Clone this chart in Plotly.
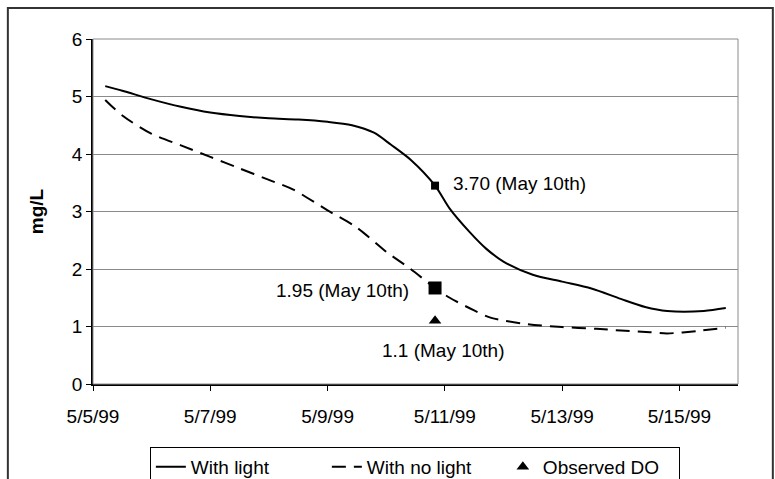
import plotly.graph_objects as go

# "With light" curve
light_dates = [
    "1999-05-05 05:00", "1999-05-05 12:00", "1999-05-06 00:00", "1999-05-06 12:00",
    "1999-05-07 00:00", "1999-05-07 12:00", "1999-05-08 00:00", "1999-05-08 12:00",
    "1999-05-09 00:00", "1999-05-09 10:00", "1999-05-09 19:00", "1999-05-10 02:00",
    "1999-05-10 10:00", "1999-05-10 20:00", "1999-05-11 02:00", "1999-05-11 10:00",
    "1999-05-11 17:00", "1999-05-12 00:00", "1999-05-12 12:00", "1999-05-13 00:00",
    "1999-05-13 12:00", "1999-05-14 00:00", "1999-05-14 10:00", "1999-05-14 19:00",
    "1999-05-15 10:00", "1999-05-15 19:00",
]
light_values = [
    5.18, 5.10, 4.95, 4.82, 4.72, 4.66, 4.62, 4.60, 4.56, 4.50, 4.37, 4.16, 3.90,
    3.45, 3.05, 2.65, 2.35, 2.13, 1.90, 1.78, 1.66, 1.48, 1.34, 1.27, 1.27, 1.32,
]

# "With no light" curve
dark_dates = [
    "1999-05-05 05:00", "1999-05-05 12:00", "1999-05-06 00:00", "1999-05-06 12:00",
    "1999-05-07 00:00", "1999-05-07 12:00", "1999-05-08 00:00", "1999-05-08 10:00",
    "1999-05-09 00:00", "1999-05-09 12:00", "1999-05-10 00:00", "1999-05-10 10:00",
    "1999-05-10 20:00", "1999-05-11 02:00", "1999-05-11 12:00", "1999-05-11 19:00",
    "1999-05-12 10:00", "1999-05-13 00:00", "1999-05-13 14:00", "1999-05-14 00:00",
    "1999-05-14 12:00", "1999-05-14 19:00", "1999-05-15 07:00", "1999-05-15 19:00",
]
dark_values = [
    4.94, 4.67, 4.35, 4.15, 3.95, 3.75, 3.55, 3.38, 3.02, 2.72, 2.30, 2.00,
    1.67, 1.50, 1.28, 1.15, 1.04, 0.99, 0.96, 0.93, 0.90, 0.88, 0.92, 0.98,
]

# May 10th points
mark_date = "1999-05-10 20:00"
light_mark = 3.45
dark_mark = 1.67
observed_do = 1.1

tick_dates = ["1999-05-05", "1999-05-07", "1999-05-09", "1999-05-11", "1999-05-13", "1999-05-15"]
tick_text = ["5/5/99", "5/7/99", "5/9/99", "5/11/99", "5/13/99", "5/15/99"]

FONT = "Liberation Sans, Arial, sans-serif"

fig = go.Figure()

fig.add_trace(go.Scatter(
    x=light_dates, y=light_values, mode='lines', name='With light',
    line=dict(color='black', width=2, shape='spline', smoothing=0.8)
))
fig.add_trace(go.Scatter(
    x=dark_dates, y=dark_values, mode='lines', name='With no light',
    line=dict(color='black', width=2, dash='14px,8px', shape='spline', smoothing=0.8)
))
fig.add_trace(go.Scatter(
    x=[mark_date], y=[observed_do], mode='markers', name='Observed DO',
    marker=dict(color='black', size=11, symbol='triangle-up')
))
fig.add_trace(go.Scatter(
    x=[mark_date], y=[light_mark], mode='markers', showlegend=False,
    marker=dict(color='black', size=8, symbol='square')
))
fig.add_trace(go.Scatter(
    x=[mark_date], y=[dark_mark], mode='markers', showlegend=False,
    marker=dict(color='black', size=13, symbol='square')
))

ann_font = dict(family=FONT, size=19, color='black')
fig.add_annotation(x=mark_date, y=light_mark, text='3.70 (May 10th)', showarrow=False,
                   xanchor='left', xshift=16, yshift=2, font=ann_font)
fig.add_annotation(x=mark_date, y=dark_mark, text='1.95 (May 10th)', showarrow=False,
                   xanchor='right', xshift=-24, yshift=-3, font=ann_font)
fig.add_annotation(x=mark_date, y=observed_do, text='1.1 (May 10th)', showarrow=False,
                   xanchor='center', xshift=8, yshift=-30, font=ann_font)

# outer chart frame and gray plot-area frame
fig.add_shape(type='rect', xref='paper', yref='paper', x0=-0.132, x1=1.054, y0=-0.30, y1=1.09,
              line=dict(color='#333333', width=2))
fig.add_shape(type='rect', xref='paper', yref='paper', x0=0, x1=1, y0=0, y1=1,
              line=dict(color='#8a8a8a', width=1))

fig.update_layout(
    width=775, height=479,
    margin=dict(l=93, r=37, t=39, b=95),
    paper_bgcolor='white', plot_bgcolor='white',
    font=dict(family=FONT, size=19, color='black'),
    xaxis=dict(
        range=["1999-05-05", "1999-05-16"],
        tickvals=tick_dates, ticktext=tick_text,
        ticks='outside', ticklen=5, tickcolor='black',
        showline=True, linecolor='black', linewidth=1.5,
        showgrid=False, zeroline=False, automargin=False,
        tickfont=dict(size=19), ticklabelstandoff=9,
    ),
    yaxis=dict(
        range=[0, 6], dtick=1,
        ticks='outside', ticklen=5, tickcolor='black',
        showline=True, linecolor='black', linewidth=1.5,
        showgrid=True, gridcolor='#8a8a8a', gridwidth=1, zeroline=False,
        automargin=False,
        title=dict(text='<b>mg/L</b>', font=dict(size=19), standoff=23),
        tickfont=dict(size=19),
    ),
    legend=dict(
        orientation='h', x=0.499, xanchor='center',
        yref='container', y=0.067, yanchor='top',
        bordercolor='black', borderwidth=1, bgcolor='white',
        font=dict(size=19), entrywidth=131, entrywidthmode='pixels',
    ),
)

fig.write_html("out.html", config={'displayModeBar': False},
               post_script="document.body.style.margin='0';")
